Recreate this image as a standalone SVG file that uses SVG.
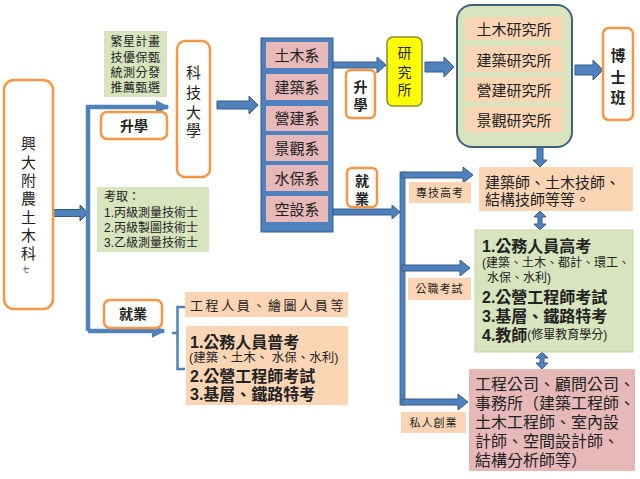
<svg xmlns="http://www.w3.org/2000/svg" width="640" height="479" viewBox="0 0 640 479">
<style>
text{font-family:"Liberation Sans","Noto Sans CJK TC",sans-serif;fill:#222;dominant-baseline:central}
.ob{fill:#fff;stroke:#F79646;stroke-width:2.5}
.gr{fill:#D7E4BD}
.pe{fill:#FCD5B5}
.pk{fill:#E6B9B8}
.ba{fill:#4F81BD;stroke:#385D8A;stroke-width:1}
.ln{stroke:#4F81BD;stroke-width:4.5;fill:none}
.k15{font-size:15px}
.k14{font-size:14px}
.k12{font-size:12px}
.k11{font-size:11px;letter-spacing:1px}
.bd{font-weight:bold;font-size:16px}
.m{text-anchor:middle}
</style>
<defs>
<marker id="ah" viewBox="0 0 10 10" refX="9" refY="5" markerWidth="3" markerHeight="3" orient="auto" markerUnits="strokeWidth">
<path d="M0,0 L10,5 L0,10 z" fill="#4F81BD"/>
</marker>
</defs>

<g id="connectors">
<polygon class="ba" points="53,209.5 80,209.5 80,205 88,213 80,221 80,216.5 53,216.5"/>
<path class="ln" d="M88,331 V107 H168" marker-end="url(#ah)"/>
<path class="ln" d="M88,331 H164" marker-end="url(#ah)"/>
<path d="M185,307 H177.5 V369 H185 M177.5,333 H172" stroke="#4F81BD" stroke-width="2.5" fill="none"/>
<polygon class="ba" points="217,101 249,101 249,96 258,105 249,114 249,109 217,109"/>
<polygon class="ba" points="333,62 377,62 377,57 386,65 377,73 377,68 333,68"/>
<polygon class="ba" points="425,62 444,62 444,57 454,67 444,77 444,72 425,72"/>
<polygon class="ba" points="575,65 593,65 593,60 603,70 593,80 593,75 575,75"/>
<polygon class="ba" points="333,209 392,209 392,205 400,212 392,219 392,215 333,215"/>
<rect x="400" y="172" width="5" height="233" fill="#4F81BD" stroke="#385D8A" stroke-width="0.8"/>
<polygon class="ba" points="402,172 463,172 463,167 473,175 463,183 463,178 402,178"/>
<polygon class="ba" points="402,265 460,265 460,260 470,268 460,276 460,271 402,271"/>
<polygon class="ba" points="402,399 458,399 458,394 468,402 458,410 458,405 402,405"/>
<polygon class="ba" points="537,147 543,147 543,160 547,160 540,167 533,160 537,160"/>
<polygon class="ba" points="540,211 546,217 542,217 542,224 546,224 540,230 534,224 538,224 538,217 534,217"/>
<polygon class="ba" points="542,352 548,358 544,358 544,363 548,363 542,369 536,363 540,363 540,358 536,358"/>
</g>

<g id="node-school">
<rect class="ob" x="4" y="80" width="49" height="229" rx="10"/>
<text class="k15 m" x="28.5"><tspan x="28.5" y="143">興</tspan><tspan x="28.5" y="162">大</tspan><tspan x="28.5" y="180">附</tspan><tspan x="28.5" y="198">農</tspan><tspan x="28.5" y="217">土</tspan><tspan x="28.5" y="235">木</tspan><tspan x="28.5" y="253">科</tspan><tspan x="26" y="269" style="font-size:7px">七</tspan></text>
</g>

<g id="node-recommend">
<rect class="gr" x="104" y="31" width="63" height="66"/>
<text class="k12 m" style="letter-spacing:0.5px"><tspan x="135.5" y="42">繁星計畫</tspan><tspan x="135.5" y="57.5">技優保甄</tspan><tspan x="135.5" y="73">統測分發</tspan><tspan x="135.5" y="88">推薦甄選</tspan></text>
</g>

<g id="node-up1">
<rect class="ob" x="101" y="112" width="66" height="27" rx="6" stroke-width="2"/>
<text class="k14 m" x="134" y="126" font-weight="bold">升學</text>
</g>

<g id="node-license">
<rect class="gr" x="97" y="187" width="112" height="65"/>
<text class="k12"><tspan x="104" y="197">考取：</tspan><tspan x="104" y="213">1.丙級測量技術士</tspan><tspan x="104" y="228">2.丙級製圖技術士</tspan><tspan x="104" y="243">3.乙級測量技術士</tspan></text>
</g>

<g id="node-job1">
<rect class="ob" x="104" y="300" width="58" height="28" rx="6" stroke-width="2"/>
<text class="k14 m" x="133" y="314" font-weight="bold">就業</text>
</g>

<g id="node-techuniv">
<rect class="ob" x="177" y="41" width="33" height="136" rx="8" stroke-width="2"/>
<text class="k15 m" x="193.5"><tspan x="193.5" y="72">科</tspan><tspan x="193.5" y="92">技</tspan><tspan x="193.5" y="112">大</tspan><tspan x="193.5" y="130">學</tspan></text>
</g>

<g id="node-workers">
<rect class="pe" x="185" y="292" width="163" height="25"/>
<text x="190" y="305" style="font-size:13px;letter-spacing:2.6px">工程人員、繪圖人員等</text>
</g>

<g id="node-exam1">
<rect class="pe" x="186" y="326" width="162" height="79"/>
<text><tspan class="bd" x="190" y="342">1.公務人員普考</tspan><tspan x="189" y="358" style="font-size:12.5px">(建築、土木、 水保、水利)</tspan><tspan class="bd" x="190" y="376">2.公營工程師考試</tspan><tspan class="bd" x="190" y="394">3.基層、鐵路特考</tspan></text>
</g>

<g id="node-depts">
<rect class="ba" x="261" y="38" width="72" height="194" stroke-width="1.5"/>
<rect class="pk" x="266" y="42" width="62" height="26"/>
<rect class="pk" x="266" y="74" width="62" height="26"/>
<rect class="pk" x="266" y="106" width="62" height="25"/>
<rect class="pk" x="266" y="135" width="62" height="26"/>
<rect class="pk" x="266" y="165" width="62" height="26"/>
<rect class="pk" x="266" y="196" width="62" height="26"/>
<text class="k15 m" x="297" y="55">土木系</text>
<text class="k15 m" x="297" y="87">建築系</text>
<text class="k15 m" x="297" y="118.5">營建系</text>
<text class="k15 m" x="297" y="148">景觀系</text>
<text class="k15 m" x="297" y="178">水保系</text>
<text class="k15 m" x="297" y="209">空設系</text>
</g>

<g id="node-up2">
<rect class="ob" x="346" y="70" width="29" height="48" rx="5" stroke-width="2"/>
<text class="k14 m" x="360.5" font-weight="bold"><tspan x="360.5" y="87">升</tspan><tspan x="360.5" y="105">學</tspan></text>
</g>

<g id="node-job2">
<rect class="ob" x="347" y="168" width="30" height="39" rx="5" stroke-width="2"/>
<text class="k14 m" x="362" font-weight="bold"><tspan x="362" y="181">就</tspan><tspan x="362" y="199">業</tspan></text>
</g>

<g id="node-grad">
<rect x="387" y="37" width="35" height="69" rx="6" fill="#FFFF00" stroke="#8A8A2E" stroke-width="1.5"/>
<text class="k14 m" x="404.5"><tspan x="404.5" y="53">研</tspan><tspan x="404.5" y="72">究</tspan><tspan x="404.5" y="90">所</tspan></text>
</g>

<g id="node-institutes">
<rect x="457" y="5" width="115" height="142" rx="15" fill="#D7E4BD" stroke="#41617F" stroke-width="2"/>
<rect class="pe" x="465" y="17" width="98" height="23"/>
<rect class="pe" x="465" y="46" width="98" height="26"/>
<rect class="pe" x="465" y="77" width="98" height="25"/>
<rect class="pe" x="465" y="107" width="98" height="25"/>
<text class="k15 m" x="514" y="29">土木研究所</text>
<text class="k15 m" x="514" y="60">建築研究所</text>
<text class="k15 m" x="514" y="90">營建研究所</text>
<text class="k15 m" x="514" y="120">景觀研究所</text>
</g>

<g id="node-phd">
<rect class="ob" x="603" y="28" width="30" height="92" rx="6" stroke-width="2"/>
<text class="k15 m" x="618" font-weight="bold"><tspan x="618" y="55">博</tspan><tspan x="618" y="77">士</tspan><tspan x="618" y="97">班</tspan></text>
</g>

<g id="node-pro">
<rect class="pe" x="479" y="167" width="154" height="44"/>
<text class="k15"><tspan x="485" y="181.5">建築師、土木技師、</tspan><tspan x="485" y="199">結構技師等等。</tspan></text>
</g>

<g id="node-exam2">
<rect class="gr" x="475" y="230" width="158" height="122" stroke="#C5D6A8" stroke-width="1"/>
<text><tspan class="bd" x="482" y="246">1.公務人員高考</tspan><tspan class="k12" x="482" y="263">(建築、土木、都計、環工、</tspan><tspan class="k12" x="487" y="278">水保、水利)</tspan><tspan class="bd" x="482" y="297">2.公營工程師考試</tspan><tspan class="bd" x="482" y="315.5">3.基層、鐵路特考</tspan><tspan class="bd" x="482" y="335">4.教師</tspan><tspan class="k12">(修畢教育學分)</tspan></text>
</g>

<g id="node-private">
<rect class="pk" x="469" y="369" width="166" height="102"/>
<text style="font-size:16px"><tspan x="475" y="384">工程公司、顧問公司、</tspan><tspan x="475" y="403">事務所（建築工程師、</tspan><tspan x="475" y="422">土木工程師、室內設</tspan><tspan x="475" y="441">計師、空間設計師、</tspan><tspan x="475" y="460">結構分析師等）</tspan></text>
</g>

<g id="label-zhuanji">
<rect class="pe" x="409" y="182" width="62" height="21"/>
<text class="k11 m" x="440" y="192.5">專技高考</text>
</g>
<g id="label-gongzhi">
<rect class="pe" x="408" y="278" width="63" height="22"/>
<text class="k11 m" x="439.5" y="289">公職考試</text>
</g>
<g id="label-siren">
<rect class="pe" x="401" y="412" width="65" height="21"/>
<text class="k11 m" x="433.5" y="422.5">私人創業</text>
</g>
</svg>
